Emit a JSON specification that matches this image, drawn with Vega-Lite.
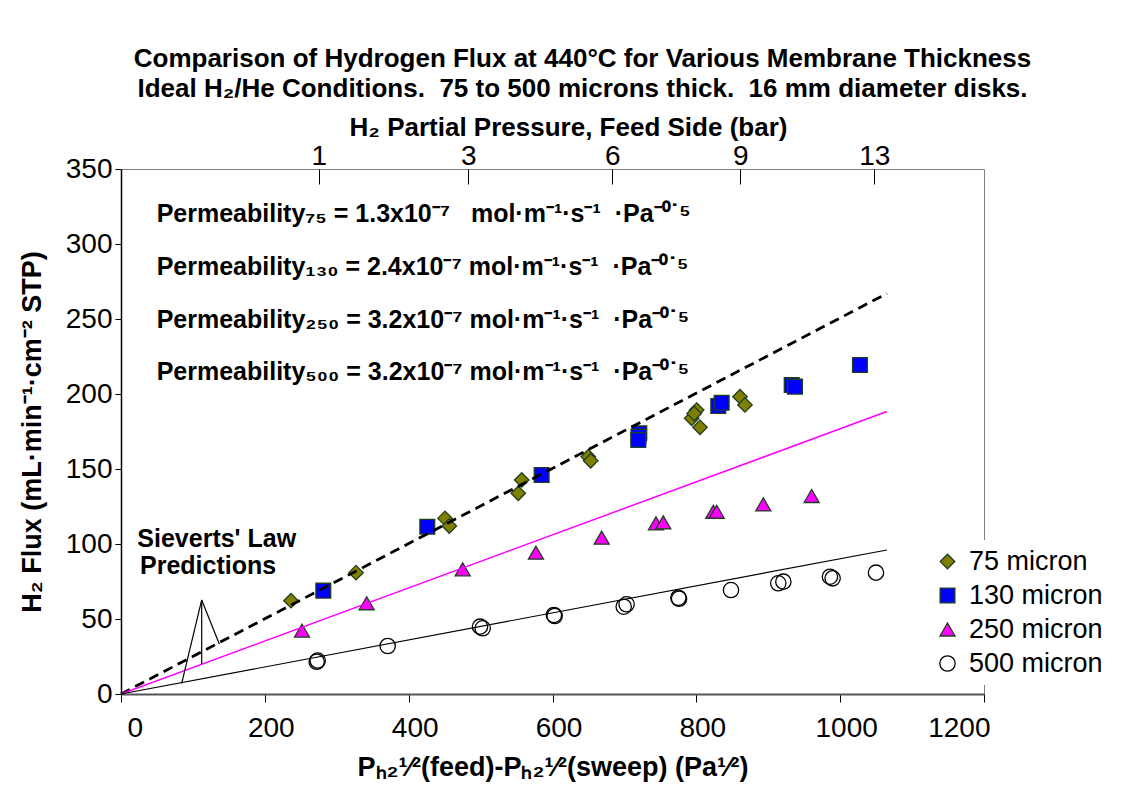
{
  "$schema": "https://vega.github.io/schema/vega-lite/v6.json",
  "width": 863,
  "height": 525,
  "autosize": {"type": "none"},
  "padding": {"left": 121, "top": 169, "right": 155, "bottom": 104},
  "background": "white",
  "config": {
    "font": "Liberation Sans",
    "view": {"stroke": "#808080", "strokeWidth": 1},
    "axis": {"grid": false}
  },
  "title": {
    "text": ["Comparison of Hydrogen Flux at 440°C for Various Membrane Thickness", "Ideal H₂/He Conditions.\u00a0 75 to 500 microns thick.\u00a0 16 mm diameter disks."],
    "fontSize": 26,
    "fontWeight": "bold",
    "lineHeight": 30,
    "anchor": "middle",
    "dx": 30,
    "offset": 12,
    "color": "black"
  },
  "datasets": {
    "points": [
      {"series": "75 micron", "x": 236.4, "y": 62.2},
      {"series": "75 micron", "x": 326.8, "y": 80.9},
      {"series": "75 micron", "x": 450.5, "y": 117.1},
      {"series": "75 micron", "x": 456.5, "y": 112.0},
      {"series": "75 micron", "x": 557.2, "y": 142.7},
      {"series": "75 micron", "x": 552.4, "y": 133.8},
      {"series": "75 micron", "x": 649.8, "y": 158.2},
      {"series": "75 micron", "x": 653.1, "y": 155.5},
      {"series": "75 micron", "x": 800.5, "y": 189.3},
      {"series": "75 micron", "x": 793.5, "y": 183.8},
      {"series": "75 micron", "x": 797.0, "y": 187.0},
      {"series": "75 micron", "x": 805.1, "y": 177.8},
      {"series": "75 micron", "x": 860.7, "y": 198.2},
      {"series": "75 micron", "x": 867.6, "y": 192.7},
      {"series": "130 micron", "x": 281.3, "y": 68.9},
      {"series": "130 micron", "x": 425.9, "y": 111.5},
      {"series": "130 micron", "x": 584.9, "y": 146.0},
      {"series": "130 micron", "x": 720.7, "y": 173.8},
      {"series": "130 micron", "x": 719.5, "y": 171.5},
      {"series": "130 micron", "x": 719.3, "y": 169.3},
      {"series": "130 micron", "x": 830.5, "y": 192.0},
      {"series": "130 micron", "x": 835.2, "y": 194.2},
      {"series": "130 micron", "x": 932.6, "y": 206.0},
      {"series": "130 micron", "x": 937.2, "y": 204.9},
      {"series": "130 micron", "x": 1027.5, "y": 219.3},
      {"series": "250 micron", "x": 251.7, "y": 42.2},
      {"series": "250 micron", "x": 341.6, "y": 60.5},
      {"series": "250 micron", "x": 475.1, "y": 83.1},
      {"series": "250 micron", "x": 577.0, "y": 94.2},
      {"series": "250 micron", "x": 668.4, "y": 104.2},
      {"series": "250 micron", "x": 743.9, "y": 113.8},
      {"series": "250 micron", "x": 754.0, "y": 114.4},
      {"series": "250 micron", "x": 823.6, "y": 121.5},
      {"series": "250 micron", "x": 828.3, "y": 121.5},
      {"series": "250 micron", "x": 893.1, "y": 126.4},
      {"series": "250 micron", "x": 960.3, "y": 132.0},
      {"series": "500 micron", "x": 272.1, "y": 21.5},
      {"series": "500 micron", "x": 273.5, "y": 22.3},
      {"series": "500 micron", "x": 370.8, "y": 32.0},
      {"series": "500 micron", "x": 499.2, "y": 44.9},
      {"series": "500 micron", "x": 502.9, "y": 43.8},
      {"series": "500 micron", "x": 602.0, "y": 52.7},
      {"series": "500 micron", "x": 603.0, "y": 52.0},
      {"series": "500 micron", "x": 699.0, "y": 58.2},
      {"series": "500 micron", "x": 703.0, "y": 59.8},
      {"series": "500 micron", "x": 775.0, "y": 64.2},
      {"series": "500 micron", "x": 776.0, "y": 63.5},
      {"series": "500 micron", "x": 848.2, "y": 69.3},
      {"series": "500 micron", "x": 913.9, "y": 73.8},
      {"series": "500 micron", "x": 921.0, "y": 74.9},
      {"series": "500 micron", "x": 985.8, "y": 78.2},
      {"series": "500 micron", "x": 989.5, "y": 77.1},
      {"series": "500 micron", "x": 1049.8, "y": 80.9}
    ],
    "lines": [
      {"line": "a", "x": 0, "y": 0},
      {"line": "a", "x": 1065, "y": 267},
      {"line": "b", "x": 0, "y": 0},
      {"line": "b", "x": 1065, "y": 188.3},
      {"line": "c", "x": 0, "y": 0},
      {"line": "c", "x": 1065, "y": 96}
    ],
    "pointer": [
      {"x": 112.2, "y": 62.7, "x2": 84.4, "y2": 7.1},
      {"x": 112.2, "y": 62.7, "x2": 112.2, "y2": 20.0},
      {"x": 112.2, "y": 62.7, "x2": 136.7, "y2": 33.3}
    ],
    "notes": [
      {"text": "Permeability₇₅ = 1.3x10⁻⁷\u00a0\u00a0 mol·m⁻¹·s⁻¹\u00a0 ·Pa⁻⁰˙⁵", "x": 49.6, "y": 314.9},
      {"text": "Permeability₁₃₀ = 2.4x10⁻⁷ mol·m⁻¹·s⁻¹\u00a0 ·Pa⁻⁰˙⁵", "x": 49.6, "y": 279.3},
      {"text": "Permeability₂₅₀ = 3.2x10⁻⁷ mol·m⁻¹·s⁻¹\u00a0 ·Pa⁻⁰˙⁵", "x": 49.6, "y": 243.8},
      {"text": "Permeability₅₀₀ = 3.2x10⁻⁷ mol·m⁻¹·s⁻¹\u00a0 ·Pa⁻⁰˙⁵", "x": 49.6, "y": 209.3},
      {"text": "Sieverts' Law", "x": 22.7, "y": 98.2},
      {"text": "Predictions", "x": 26.4, "y": 80.0}
    ]
  },
  "layer": [
    {
      "data": {"name": "points"},
      "mark": {"type": "point", "filled": true, "strokeWidth": 1.3, "opacity": 1},
      "encoding": {
        "x": {
          "field": "x", "type": "quantitative",
          "scale": {"domain": [0, 1200], "nice": false, "zero": false},
          "axis": {
            "orient": "bottom",
            "title": "Pₕ₂¹⁄²(feed)-Pₕ₂¹⁄²(sweep) (Pa¹⁄²)",
            "values": [0, 200, 400, 600, 800, 1000, 1200],
            "format": "d",
            "labelFontSize": 28, "labelColor": "black",
            "tickSize": 8, "tickColor": "black", "labelPadding": 12, "labelOffset": 6,
            "domainColor": "#555555", "domainWidth": 2,
            "titleFontSize": 27, "titleFontWeight": "bold", "titleColor": "black", "titlePadding": 12
          }
        },
        "y": {
          "field": "y", "type": "quantitative",
          "scale": {"domain": [0, 350], "nice": false},
          "axis": {
            "title": "H₂ Flux (mL·min⁻¹·cm⁻² STP)",
            "values": [0, 50, 100, 150, 200, 250, 300, 350],
            "labelFontSize": 28, "labelColor": "black",
            "tickSize": 6, "tickColor": "black", "labelPadding": 3,
            "domainColor": "black", "domainWidth": 1.5,
            "titleFontSize": 27, "titleFontWeight": "bold", "titleColor": "black", "titlePadding": 19
          }
        },
        "color": {
          "field": "series", "type": "nominal",
          "scale": {"domain": ["75 micron", "130 micron", "250 micron", "500 micron"], "range": ["#808000", "#0000ff", "#ff00ff", "transparent"]},
          "legend": {
            "title": null, "orient": "none", "legendX": 805, "legendY": 371,
            "labelFontSize": 27, "labelColor": "black", "fillColor": "white",
            "padding": 8, "rowPadding": 6, "symbolSize": 190, "symbolStrokeWidth": 1.3,
            "labelOffset": 8
          }
        },
        "shape": {
          "field": "series", "type": "nominal",
          "scale": {"domain": ["75 micron", "130 micron", "250 micron", "500 micron"], "range": ["diamond", "square", "triangle-up", "circle"]},
          "legend": {
            "title": null, "orient": "none", "legendX": 805, "legendY": 371,
            "labelFontSize": 27, "labelColor": "black", "fillColor": "white",
            "padding": 8, "rowPadding": 6, "symbolSize": 190, "symbolStrokeWidth": 1.3,
            "labelOffset": 8
          }
        },
        "stroke": {
          "field": "series", "type": "nominal",
          "scale": {"domain": ["75 micron", "130 micron", "250 micron", "500 micron"], "range": ["#1f3f1f", "#1f3f1f", "#1f3f1f", "#000000"]},
          "legend": {
            "title": null, "orient": "none", "legendX": 805, "legendY": 371,
            "labelFontSize": 27, "labelColor": "black", "fillColor": "white",
            "padding": 8, "rowPadding": 6, "symbolSize": 190, "symbolStrokeWidth": 1.3,
            "labelOffset": 8
          }
        },
        "size": {
          "field": "series", "type": "nominal",
          "scale": {"domain": ["75 micron", "130 micron", "250 micron", "500 micron"], "range": [210, 235, 270, 245]},
          "legend": null
        }
      }
    },
    {
      "data": {"name": "lines"},
      "transform": [{"filter": "datum.line === 'a'"}],
      "mark": {"type": "line", "color": "black", "strokeWidth": 2.8, "strokeDash": [10, 6]},
      "encoding": {
        "x": {"field": "x", "type": "quantitative", "axis": null},
        "y": {"field": "y", "type": "quantitative"}
      }
    },
    {
      "data": {"name": "lines"},
      "transform": [{"filter": "datum.line === 'b'"}],
      "mark": {"type": "line", "color": "#ff00ff", "strokeWidth": 1.5},
      "encoding": {
        "x": {"field": "x", "type": "quantitative", "axis": null},
        "y": {"field": "y", "type": "quantitative"}
      }
    },
    {
      "data": {"name": "lines"},
      "transform": [{"filter": "datum.line === 'c'"}],
      "mark": {"type": "line", "color": "black", "strokeWidth": 1.2},
      "encoding": {
        "x": {
          "field": "x", "type": "quantitative",
          "axis": {
            "orient": "top",
            "title": "H₂ Partial Pressure, Feed Side (bar)",
            "values": [275, 483, 683, 861, 1047.5],
            "labelExpr": "datum.value < 300 ? '1' : datum.value < 500 ? '3' : datum.value < 700 ? '6' : datum.value < 900 ? '9' : '13'",
            "labelFontSize": 28, "labelColor": "black",
            "tickSize": -15, "tickColor": "black", "labelPadding": 14,
            "domain": false,
            "titleFontSize": 26, "titleFontWeight": "bold", "titleColor": "black",
            "titleX": 447, "titleY": -34, "titleBaseline": "alphabetic", "titleAlign": "center"
          }
        },
        "y": {"field": "y", "type": "quantitative"}
      }
    },
    {
      "data": {"name": "pointer"},
      "mark": {"type": "rule", "color": "black", "strokeWidth": 1.2},
      "encoding": {
        "x": {"field": "x", "type": "quantitative", "axis": null},
        "y": {"field": "y", "type": "quantitative"},
        "x2": {"field": "x2"},
        "y2": {"field": "y2"}
      }
    },
    {
      "data": {"name": "notes"},
      "mark": {"type": "text", "align": "left", "baseline": "alphabetic", "fontSize": 25, "fontWeight": "bold", "color": "black"},
      "encoding": {
        "x": {"field": "x", "type": "quantitative", "axis": null},
        "y": {"field": "y", "type": "quantitative"},
        "text": {"field": "text"}
      }
    }
  ],
  "resolve": {"axis": {"x": "independent"}}
}
